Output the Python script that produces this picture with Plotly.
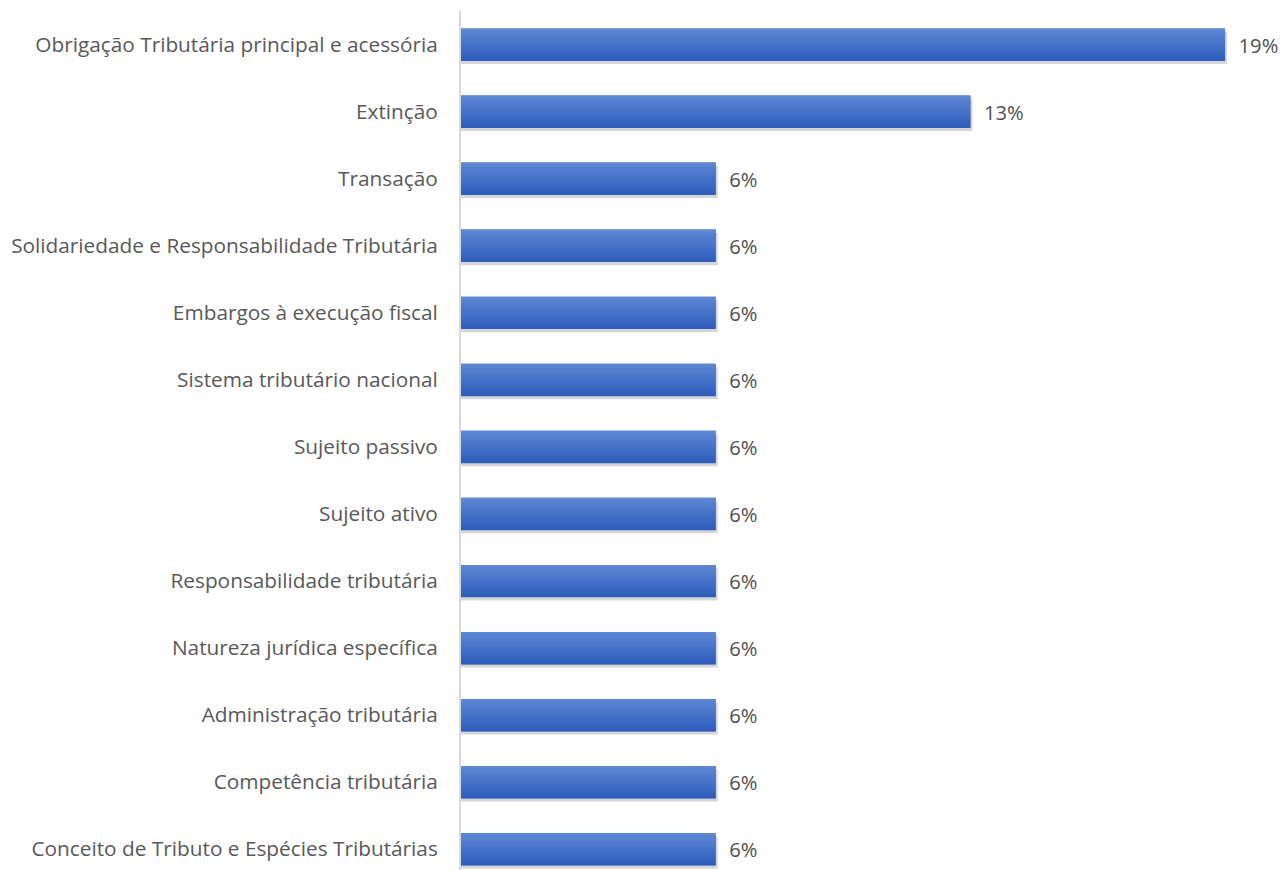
import plotly.graph_objects as go

categories = [
    "Obrigação Tributária principal e acessória",
    "Extinção",
    "Transação",
    "Solidariedade e Responsabilidade Tributária",
    "Embargos à execução fiscal",
    "Sistema tributário nacional",
    "Sujeito passivo",
    "Sujeito ativo",
    "Responsabilidade tributária",
    "Natureza jurídica específica",
    "Administração tributária",
    "Competência tributária",
    "Conceito de Tributo e Espécies Tributárias",
]
values = [18.75, 12.5, 6.25, 6.25, 6.25, 6.25, 6.25, 6.25, 6.25, 6.25, 6.25, 6.25, 6.25]
labels = ["19%", "13%", "6%", "6%", "6%", "6%", "6%", "6%", "6%", "6%", "6%", "6%", "6%"]

FONT = "Open Sans"
FS = 20.8
BAR_W = 0.48
fig = go.Figure()

# shadow
fig.add_trace(go.Bar(
    y=categories, x=[v + 0.05 for v in values], orientation="h",
    width=BAR_W, offset=-BAR_W / 2 + 0.05,
    marker=dict(color="rgba(0,0,0,0.16)", line=dict(width=0)),
    hoverinfo="skip", showlegend=False,
))
# base bar with labels
fig.add_trace(go.Bar(
    y=categories, x=values, orientation="h",
    width=BAR_W, offset=-BAR_W / 2,
    marker=dict(color="#3F6CC6", line=dict(width=0)),
    text=labels, texttemplate="\u00a0\u00a0%{text}",
    textposition="outside", cliponaxis=False,
    textfont=dict(color="#505050", size=20.2, family=FONT),
    showlegend=False,
))


def hexrgb(h):
    return tuple(int(h[i:i + 2], 16) for i in (1, 3, 5))


top_c, bot_c = hexrgb("#5E87D4"), hexrgb("#2E5DBB")
n = 14
sw = BAR_W / n
for k in range(n):
    t = k / (n - 1)
    c = tuple(round(a + (b - a) * t) for a, b in zip(top_c, bot_c))
    fig.add_trace(go.Bar(
        y=categories, x=values, orientation="h",
        width=sw + 0.004, offset=-BAR_W / 2 + k * sw,
        marker=dict(color="rgb(%d,%d,%d)" % c, line=dict(width=0)),
        hoverinfo="skip", showlegend=False,
    ))

fig.update_layout(
    barmode="overlay",
    width=1279, height=862,
    margin=dict(l=453, r=11, t=2.5, b=0),
    paper_bgcolor="white", plot_bgcolor="white",
    font=dict(family=FONT, color="#595959", size=FS),
    xaxis=dict(range=[0, 20], visible=False, showgrid=False, zeroline=False),
    yaxis=dict(
        type="category", range=[12.31, -0.5],
        showgrid=False, zeroline=False,
        showline=True, linecolor="#D9D9D9", linewidth=2,
        ticks="", ticklabelstandoff=17,
        tickfont=dict(size=FS, color="#595959", family=FONT),
    ),
)

fig.write_html("out.html")
